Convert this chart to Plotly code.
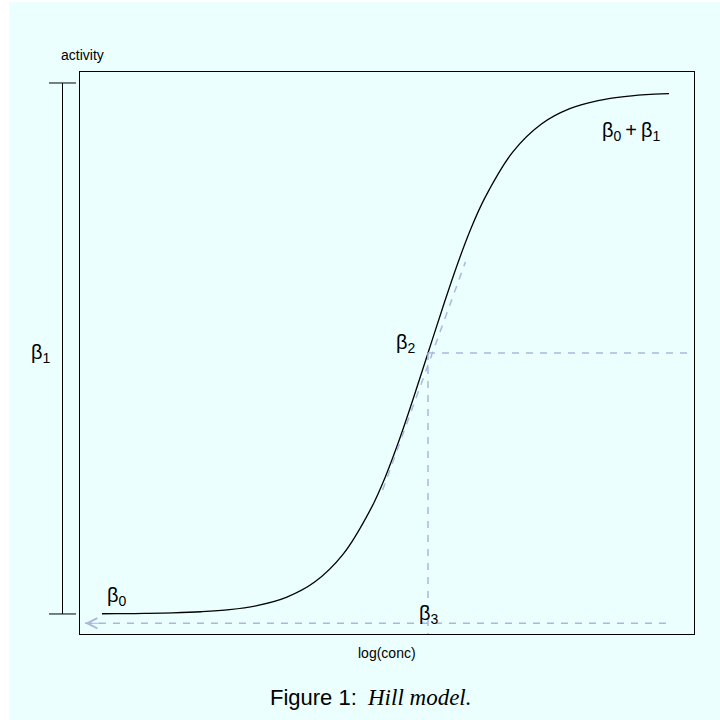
import plotly.graph_objects as go

# ---- data ----
log_conc = [-5.75, -5.5, -5.0, -4.5, -4.0, -3.5, -3.0, -2.5, -2.0, -1.5, -1.0,
            -0.75, -0.5, -0.25, 0.0, 0.25, 0.5, 0.75, 1.0, 1.5, 2.0, 2.5, 3.0,
            3.5, 4.0, 4.25]
activity = [0.04, 0.05, 0.11, 0.21, 0.42, 0.82, 1.61, 3.13, 6.01, 11.22, 19.98,
            25.9, 32.99, 40.9, 49.15, 57.4, 65.31, 72.4, 78.32, 87.08, 92.29,
            95.17, 96.69, 97.48, 97.89, 98.0]

beta0 = 0.0
beta1 = 100.0
beta2 = 49.15          # activity at the inflection point
beta3 = 0.0            # log(conc) at the inflection point

tangent_x = [-0.80, 0.66]
tangent_y = [23.35, 66.3]

baseline_x = [-6.05, 4.32]
baseline_y = [-1.75, -1.75]

x_range = [-6.138, 4.691]
y_range = [-3.77, 102.07]

BG = "#ebffff"
DASH_C = "#aab8dc"
FONT = "Liberation Sans, Arial, Helvetica, sans-serif"

fig = go.Figure()

dash_line = dict(color=DASH_C, width=1.5, dash="7px,7px")

# sigmoid curve
fig.add_trace(go.Scatter(x=log_conc, y=activity, mode="lines",
                         line=dict(color="black", width=1.3, shape="spline"),
                         hoverinfo="skip"))
# tangent at inflection
fig.add_trace(go.Scatter(x=tangent_x, y=tangent_y, mode="lines",
                         line=dash_line, hoverinfo="skip"))
# horizontal dashed line at beta2 to the right edge
fig.add_trace(go.Scatter(x=[beta3, x_range[1]], y=[beta2, beta2], mode="lines",
                         line=dash_line, hoverinfo="skip"))
# vertical dashed line at beta3 down to the bottom
fig.add_trace(go.Scatter(x=[beta3, beta3], y=[beta2, y_range[0]], mode="lines",
                         line=dash_line, hoverinfo="skip"))
# bottom dashed baseline
fig.add_trace(go.Scatter(x=baseline_x, y=baseline_y, mode="lines",
                         line=dash_line, hoverinfo="skip"))

L, R, T, B = 80, 26, 72, 86
W = 720 - L - R
H = 720 - T - B

def px(x):
    return (x - L) / W

def py(y):
    return (720 - B - y) / H

shapes = [
    # cyan background (white strip on left/top)
    dict(type="rect", xref="paper", yref="paper", x0=px(9), x1=px(720),
         y0=py(720), y1=py(2), fillcolor=BG, line=dict(width=0), layer="below"),
    # beta1 bracket
    dict(type="line", xref="paper", yref="y", x0=px(62.5), x1=px(62.5),
         y0=beta0, y1=beta0 + beta1, line=dict(color="black", width=1)),
    dict(type="line", xref="paper", yref="y", x0=px(49), x1=px(76),
         y0=beta0, y1=beta0, line=dict(color="black", width=1)),
    dict(type="line", xref="paper", yref="y", x0=px(49), x1=px(76),
         y0=beta0 + beta1, y1=beta0 + beta1, line=dict(color="black", width=1)),
]

BF = dict(family=FONT, size=20, color="black")
annotations = [
    dict(x=-5.70, y=3.2, xref="x", yref="y", text="β<sub>0</sub>", showarrow=False,
         xanchor="left", yanchor="middle", font=BF),
    dict(x=3.03, y=90.8, xref="x", yref="y",
         text="β<sub>0</sub>\u2009+\u2009β<sub>1</sub>",
         showarrow=False, xanchor="left", yanchor="middle", font=BF),
    dict(x=-0.17, y=51.0, xref="x", yref="y", text="β<sub>2</sub>", showarrow=False,
         xanchor="right", yanchor="middle", font=BF),
    dict(x=-0.19, y=-0.1, xref="x", yref="y", text="β<sub>3</sub>", showarrow=False,
         xanchor="left", yanchor="middle", font=BF),
    dict(x=px(41), y=49.0, xref="paper", yref="y", text="β<sub>1</sub>", showarrow=False,
         xanchor="center", yanchor="middle", font=BF),
    dict(x=px(82), y=py(55), xref="paper", yref="paper", text="activity", showarrow=False,
         xanchor="center", yanchor="middle", font=dict(family=FONT, size=14, color="black")),
    dict(x=px(387), y=py(653), xref="paper", yref="paper", text="log(conc)", showarrow=False,
         xanchor="center", yanchor="middle", font=dict(family=FONT, size=14, color="black")),
    dict(x=px(359), y=py(697), xref="paper", yref="paper", text="Figure 1:", showarrow=False,
         xanchor="right", yanchor="middle", font=dict(family=FONT, size=22, color="black")),
    dict(x=px(365), y=py(697), xref="paper", yref="paper", text="<i>Hill model.</i>",
         showarrow=False, xanchor="left", yanchor="middle",
         font=dict(family="Liberation Serif, Times New Roman, serif", size=23, color="black")),
    # arrowhead at left end of baseline
    dict(x=baseline_x[0], y=baseline_y[0], ax=baseline_x[0] + 0.3, ay=baseline_y[0],
         xref="x", yref="y", axref="x", ayref="y", text="", showarrow=True,
         arrowhead=5, arrowsize=2, arrowwidth=1, arrowcolor=DASH_C),
]

fig.update_layout(
    width=720, height=720,
    margin=dict(l=L, r=R, t=T, b=B),
    paper_bgcolor="white",
    plot_bgcolor="rgba(0,0,0,0)",
    showlegend=False,
    shapes=shapes,
    annotations=annotations,
    xaxis=dict(range=x_range, showgrid=False, zeroline=False, showticklabels=False,
               ticks="", showline=True, mirror=True, linecolor="black", linewidth=1),
    yaxis=dict(range=y_range, showgrid=False, zeroline=False, showticklabels=False,
               ticks="", showline=True, mirror=True, linecolor="black", linewidth=1),
)

fig.write_html("out.html")
